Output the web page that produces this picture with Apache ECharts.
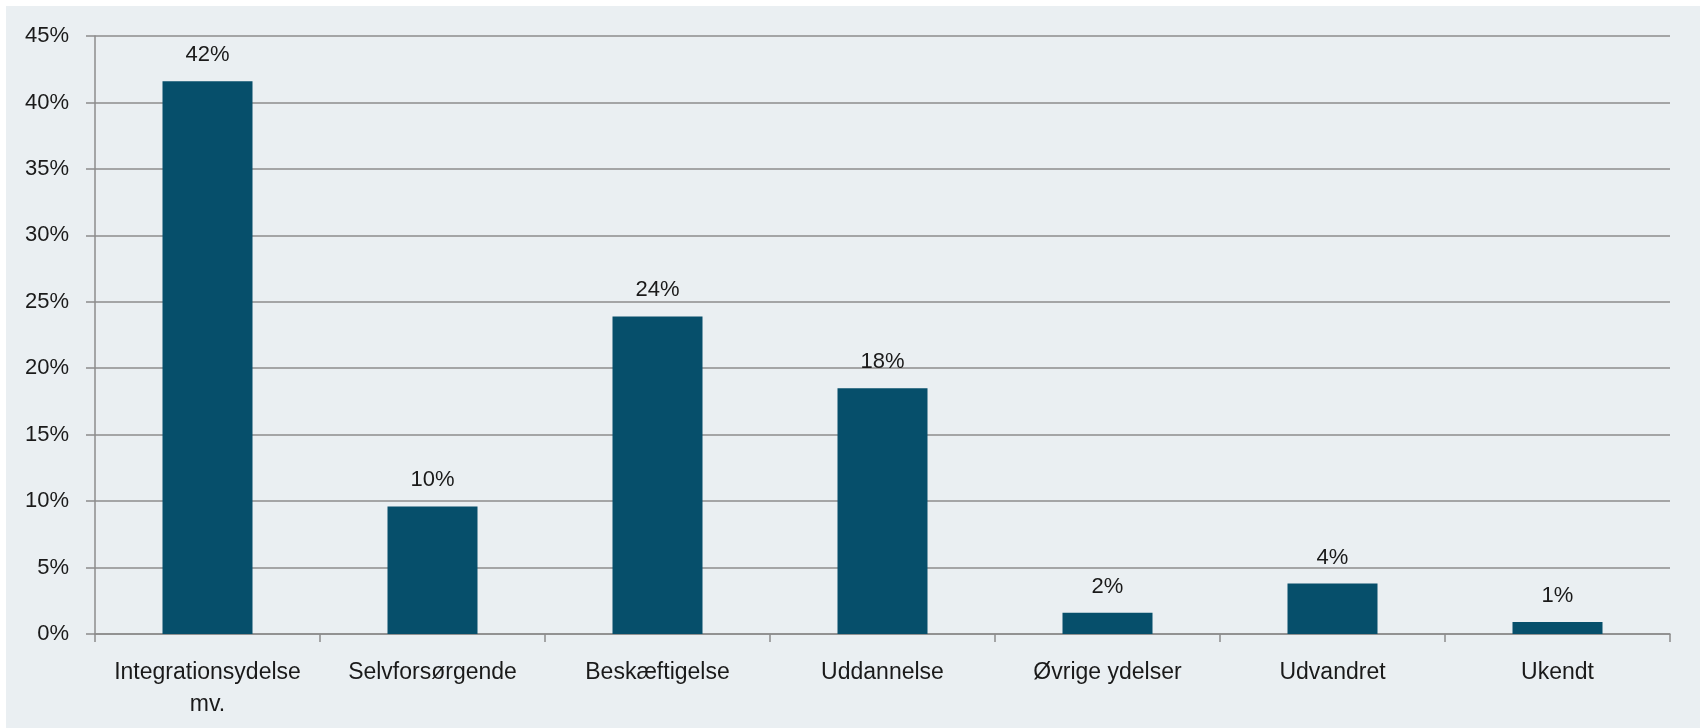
<!DOCTYPE html>
<html>
<head>
<meta charset="utf-8">
<script src="https://cdn.jsdelivr.net/npm/echarts@6/dist/echarts.min.js"></script>
<style>html,body{margin:0;padding:0;background:#fff}#c{width:1700px;height:728px}</style>
</head>
<body>
<div id="c"></div>
<script>
const categories = ['Integrationsydelse\nmv.', 'Selvforsørgende', 'Beskæftigelse', 'Uddannelse', 'Øvrige ydelser', 'Udvandret', 'Ukendt'];
const values = [41.6, 9.6, 23.9, 18.5, 1.6, 3.8, 0.9];
const labels = ['42%', '10%', '24%', '18%', '2%', '4%', '1%'];

const chart = echarts.init(document.getElementById('c'));
const font = '"Liberation Sans", Arial, sans-serif';
chart.setOption({
  animation: false,
  backgroundColor: '#ffffff',
  graphic: [{
    type: 'rect', z: -10, silent: true,
    shape: { x: 6, y: 6, width: 1694, height: 722 },
    style: { fill: '#eaeff2' }
  }],
  grid: { left: 95, right: 30, top: 36, bottom: 94, containLabel: false },
  xAxis: {
    type: 'category',
    data: categories,
    axisLine: { lineStyle: { color: '#8c8c8c', width: 1.5 } },
    axisTick: { show: true, length: 8, alignWithLabel: false, lineStyle: { color: '#8c8c8c', width: 1.5 } },
    axisLabel: { margin: 23, color: '#1a1a1a', fontSize: 23, fontFamily: font, lineHeight: 32, interval: 0 }
  },
  yAxis: {
    type: 'value', min: 0, max: 45, interval: 5,
    axisLine: { show: true, lineStyle: { color: '#8c8c8c', width: 1.5 } },
    axisTick: { show: true, length: 9, lineStyle: { color: '#8c8c8c', width: 1.5 } },
    axisLabel: { margin: 26, color: '#1a1a1a', fontSize: 22, fontFamily: font, formatter: '{value}%' },
    splitLine: { lineStyle: { color: '#8c8c8c', width: 1.5 } }
  },
  series: [{
    type: 'bar',
    data: values,
    barWidth: '40%',
    itemStyle: { color: '#064f6b' },
    label: {
      show: true, position: 'top', distance: 15,
      color: '#1a1a1a', fontSize: 22, fontFamily: font,
      formatter: p => labels[p.dataIndex]
    }
  }]
});
</script>
</body>
</html>
